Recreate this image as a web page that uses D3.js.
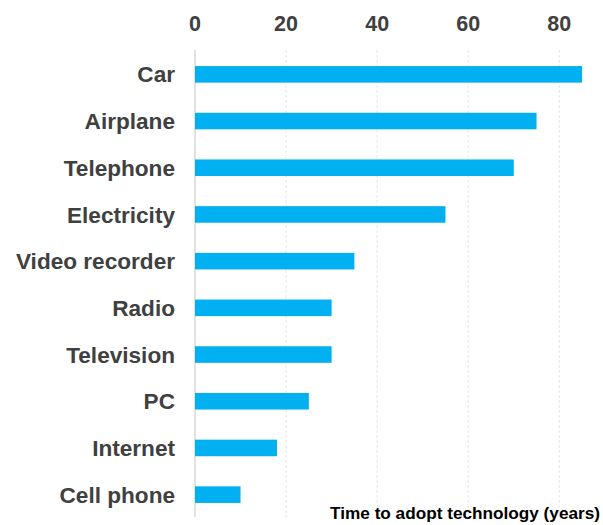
<!DOCTYPE html>
<html><head><meta charset="utf-8">
<script src="https://cdn.jsdelivr.net/npm/d3@7"></script>
<style>body{margin:0;background:#fff}svg{display:block}</style>
</head><body>
<script>
const categories = ["Car","Airplane","Telephone","Electricity","Video recorder","Radio","Television","PC","Internet","Cell phone"];
const years = [85,75,70,55,35,30,30,25,18,10];
const xTicks = [0,20,40,60,80];
const axisTitle = "Time to adopt technology (years)";

const W = 603, H = 525;
const svg = d3.select("body").append("svg").attr("width", W).attr("height", H);
const font = "'Liberation Sans', Arial, sans-serif";

const x = d3.scaleLinear().domain([0, 80]).range([195, 559.3]);
const y = d3.scaleBand().domain(categories).range([51, 518]).paddingInner(0.645).paddingOuter(0.3225);

// gridlines
svg.append("g").selectAll("line").data(xTicks).join("line")
  .attr("x1", d => x(d)).attr("x2", d => x(d))
  .attr("y1", 50).attr("y2", 517)
  .attr("stroke", d => d === 0 ? "#d9d9d9" : "#e6e6e6")
  .attr("stroke-width", d => d === 0 ? 1.5 : 1)
  .attr("stroke-dasharray", d => d === 0 ? null : "3,2");

// tick labels
svg.append("g").selectAll("text").data(xTicks).join("text")
  .attr("x", d => x(d)).attr("y", 30.5)
  .attr("text-anchor", "middle")
  .attr("font-family", font).attr("font-weight", "bold").attr("font-size", 21.5)
  .attr("fill", "#404040")
  .text(d => d);

// bars
svg.append("g").selectAll("rect").data(categories).join("rect")
  .attr("x", x(0)).attr("y", d => y(d))
  .attr("width", (d, i) => x(years[i]) - x(0))
  .attr("height", y.bandwidth())
  .attr("fill", "#00B0F0");

// category labels
svg.append("g").selectAll("text").data(categories).join("text")
  .attr("x", 175).attr("y", d => y(d) + y.bandwidth() / 2)
  .attr("dy", "0.36em")
  .attr("text-anchor", "end")
  .attr("font-family", font).attr("font-weight", "bold").attr("font-size", 22.6)
  .attr("fill", "#404040")
  .text(d => d);

// axis title
svg.append("text")
  .attr("x", 600).attr("y", 519)
  .attr("text-anchor", "end")
  .attr("font-family", font).attr("font-weight", "bold").attr("font-size", 17.2)
  .attr("fill", "#000")
  .text(axisTitle);
</script>
</body></html>
